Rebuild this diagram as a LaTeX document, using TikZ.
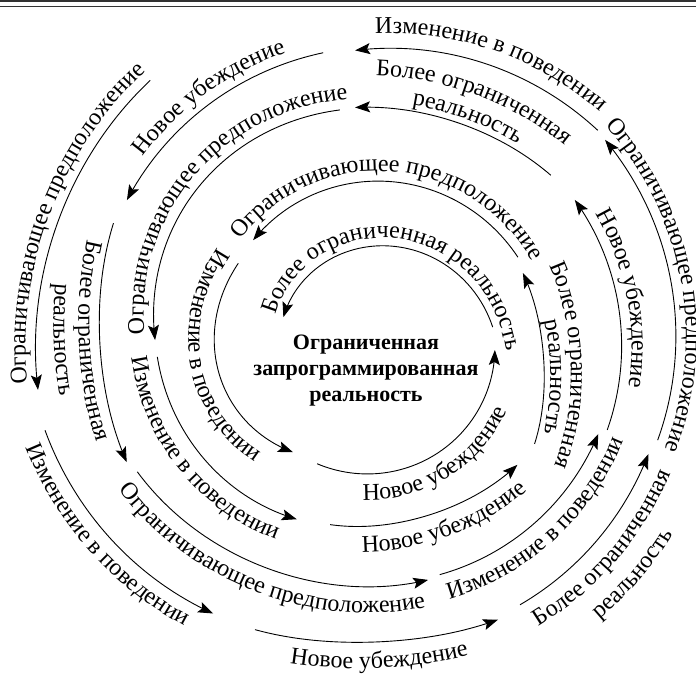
\documentclass[tikz,border=0pt]{standalone}
\usepackage{fontspec}
\setmainfont{Liberation Serif}
\usetikzlibrary{arrows.meta,decorations.text}
\newcommand\lblfont{\fontsize{24}{26}\selectfont}
\def\cx{370}\def\cy{345}
\newcommand\SegDef[5]{\def\ts{#1}\def\te{#2}\def\rs{#3}\def\re{#4}\def\bb{#5}}
\tikzset{spiral/.style={line width=0.9pt,-{Stealth[length=15pt,width=11pt,inset=3pt]}}}
\newcommand\arcl{%
  \draw[spiral] plot[domain=\ts:\te,samples=60,variable=\q]
   ({\cx+(\rs+(\re-\rs)/(\te-\ts)*(\q-\ts)+\bb*sin(180/(\te-\ts)*(\q-\ts)))*cos(\q)},
    {\cy-(\rs+(\re-\rs)/(\te-\ts)*(\q-\ts)+\bb*sin(180/(\te-\ts)*(\q-\ts)))*sin(\q)});}
\newcommand\lbl[4]{%
  \pgfmathsetmacro\rc{\rs+(\re-\rs)/(\te-\ts)*((#1)-\ts)+\bb*sin(180/(\te-\ts)*((#1)-\ts))+#3}%
  \pgfmathsetmacro\spn{min(95,14000/\rc)}%
  \path[decorate,decoration={text along path,text align=center,text={|\lblfont|#4}}]
   plot[domain=-1:1,samples=91,variable=\u]
   ({\cx+(\rs+(\re-\rs)/(\te-\ts)*((#1+#2*\spn*\u)-\ts)+\bb*sin(180/(\te-\ts)*((#1+#2*\spn*\u)-\ts))+#3)*cos(#1+#2*\spn*\u)},
    {\cy-(\rs+(\re-\rs)/(\te-\ts)*((#1+#2*\spn*\u)-\ts)+\bb*sin(180/(\te-\ts)*((#1+#2*\spn*\u)-\ts))+#3)*sin(#1+#2*\spn*\u)});%
}
\begin{document}
\begin{tikzpicture}[x=1pt,y=-1pt]
\useasboundingbox (0,0) rectangle (696,674);
\clip (0,0) rectangle (696,674);
\draw[line width=1.6pt,draw=black!80] (0,0.8) -- (696,0.8);
\draw[line width=0.8pt,draw=black!80] (0,6.5) -- (696,6.5);
% outer loop
\SegDef{129.7}{187.7}{344}{335}{-4}\arcl \lbl{158}{(-1)}{10}{Ограничивающее предположение}
\SegDef{194.7}{239.7}{336}{311}{0}\arcl \lbl{217.5}{1}{24}{Изменение в поведении}
\SegDef{248}{295}{307}{303}{-8}\arcl \lbl{272}{1}{26}{Новое убеждение}
\SegDef{300}{338.6}{300}{299}{0}\arcl \lbl{319}{1}{28}{Более ограниченная}\lbl{319}{1}{58}{реальность}
\SegDef{341.7}{401.1}{303}{312}{0}\arcl \lbl{371.5}{(-1)}{10}{Ограничивающее предположение}
% second loop
\SegDef{43.3}{92.9}{313}{295}{0}\arcl \lbl{68}{(-1)}{15}{Изменение в поведении}
\SegDef{99.1}{149.2}{296}{283}{0}\arcl \lbl{124}{(-1)}{10}{Новое убеждение}
\SegDef{154.6}{205.7}{284}{270}{-7}\arcl \lbl{180.5}{1}{21}{Более ограниченная}\lbl{180}{1}{46}{реальность}
\SegDef{208.6}{283.9}{265}{242}{-8}\arcl \lbl{246.8}{1}{26}{Ограничивающее предположение}
\SegDef{286.9}{338.7}{240}{245}{0}\arcl \lbl{313}{1}{26}{Изменение в поведении}
% third loop
\SegDef{340.3}{395.3}{252}{251}{0}\arcl \lbl{370.5}{(-1)}{10}{Новое убеждение}
\SegDef{43.2}{93.6}{248}{238}{-4}\arcl \lbl{68}{(-1)}{32}{Более ограниченная}\lbl{68.2}{(-1)}{6}{реальность}
\SegDef{97.3}{178.7}{237}{215}{7}\arcl \lbl{137}{(-1)}{10}{Ограничивающее предположение}
\SegDef{183.2}{247.2}{213}{189}{0}\arcl \lbl{216}{1}{26}{Изменение в поведении}
\SegDef{257.5}{320.9}{184}{190}{-7}\arcl \lbl{291.5}{1}{26}{Новое убеждение}
% fourth loop
\SegDef{329}{385.2}{192}{169}{-7}\arcl \lbl{359.5}{(-1)}{27}{Более ограниченная}\lbl{357}{(-1)}{6}{реальность}
\SegDef{30.7}{138.1}{172}{157}{0}\arcl \lbl{85.3}{(-1)}{10}{Ограничивающее предположение}
\SegDef{148.2}{234.3}{155}{132}{10}\arcl \lbl{189.4}{1}{26}{Изменение в поведении}
\SegDef{246}{357.7}{130}{125}{0}\arcl \lbl{302}{1}{26}{Новое убеждение}
\SegDef{8.3}{162.2}{124}{91}{-8}\arcl \lbl{82}{(-1)}{8}{Более ограниченная реальность}
\node[font=\bfseries\fontsize{22}{26}\selectfont,align=center] (core) at (366,371)
  {Ограниченная\\запрограммированная\\реальность};
\end{tikzpicture}
\end{document}
